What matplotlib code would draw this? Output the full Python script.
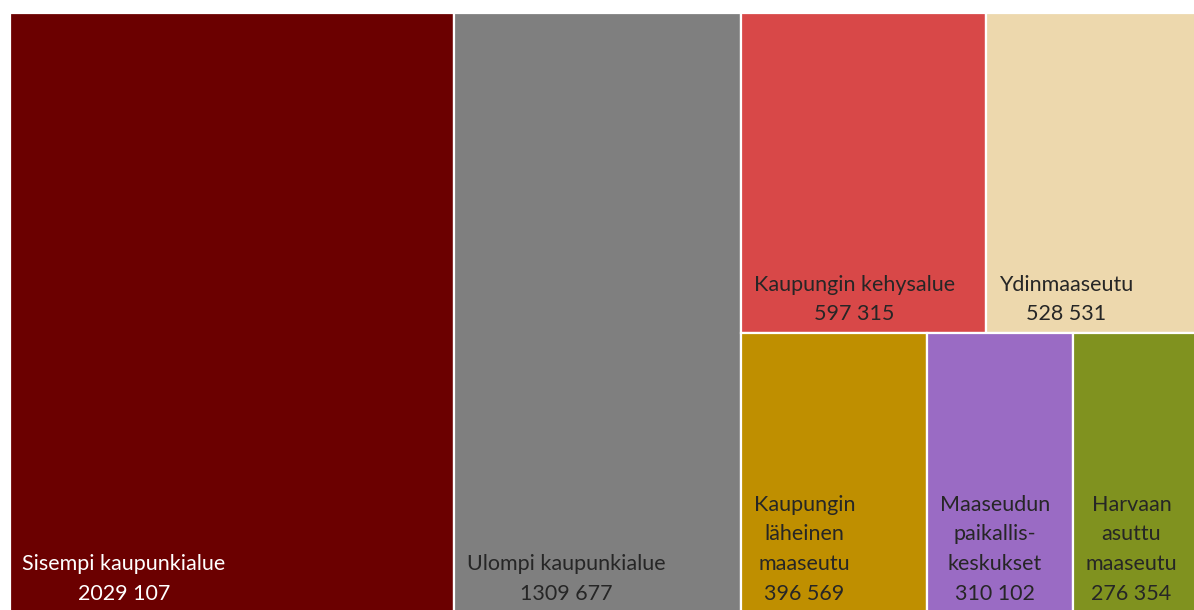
import matplotlib

matplotlib.use("Agg")
import matplotlib.pyplot as plt
from matplotlib.patches import Rectangle

# Treemap data (population by urban-rural class)
names = [
    "Sisempi kaupunkialue",
    "Ulompi kaupunkialue",
    "Kaupungin kehysalue",
    "Ydinmaaseutu",
    "Kaupungin\nläheinen\nmaaseutu",
    "Maaseudun\npaikallis-\nkeskukset",
    "Harvaan\nasuttu\nmaaseutu",
]
values = [2029107, 1309677, 597315, 528531, 396569, 310102, 276354]
colors = ["#6B0000", "#7F7F7F", "#D84848", "#EDD8AD", "#BF8F00", "#9A6BC4", "#80921F"]
text_colors = ["white", "#262626", "#262626", "#262626", "#262626", "#262626", "#262626"]

# Grouping used by the layout: columns, then rows inside the last column
columns = [[0], [1], [[2, 3], [4, 5, 6]]]


def fmt(v):
    return f"{v // 1000} {v % 1000:03d}"


def split_h(idx, x, y, w, h, rects):
    total = sum(values[i] for i in idx)
    for i in idx:
        cw = w * values[i] / total
        rects[i] = (x, y, cw, h)
        x += cw


def layout():
    rects = {}
    total = sum(values)
    x = 0.0
    for col in columns:
        flat = [i for g in col for i in (g if isinstance(g, list) else [g])]
        cw = sum(values[i] for i in flat) / total
        if all(isinstance(g, list) for g in col):
            col_total = sum(values[i] for i in flat)
            y = 0.0
            for row in col:
                rh = sum(values[i] for i in row) / col_total
                split_h(row, x, y, cw, rh, rects)
                y += rh
        else:
            for i in flat:
                rects[i] = (x, 0.0, cw, 1.0)
        x += cw
    return rects


W, H = 1194, 610
fig = plt.figure(figsize=(W / 100, H / 100), dpi=100)
ax = fig.add_axes([10 / W, (H - 612) / H, 1193 / W, 599 / H])
ax.set_xlim(0, 1)
ax.set_ylim(1, 0)
ax.axis("off")

rects = layout()
for i, (x, y, w, h) in rects.items():
    ax.add_patch(Rectangle((x, y), w, h, facecolor=colors[i], edgecolor="white", linewidth=1.6))
    ax.annotate(
        f"{names[i]}\n{fmt(values[i])}",
        xy=(x, y + h),
        xytext=(9, 6),
        textcoords="offset points",
        ha="left",
        va="bottom",
        multialignment="center",
        fontsize=15.5,
        family="Lato",
        color=text_colors[i],
        linespacing=1.6,
    )

fig.savefig("out.png", dpi=100)
